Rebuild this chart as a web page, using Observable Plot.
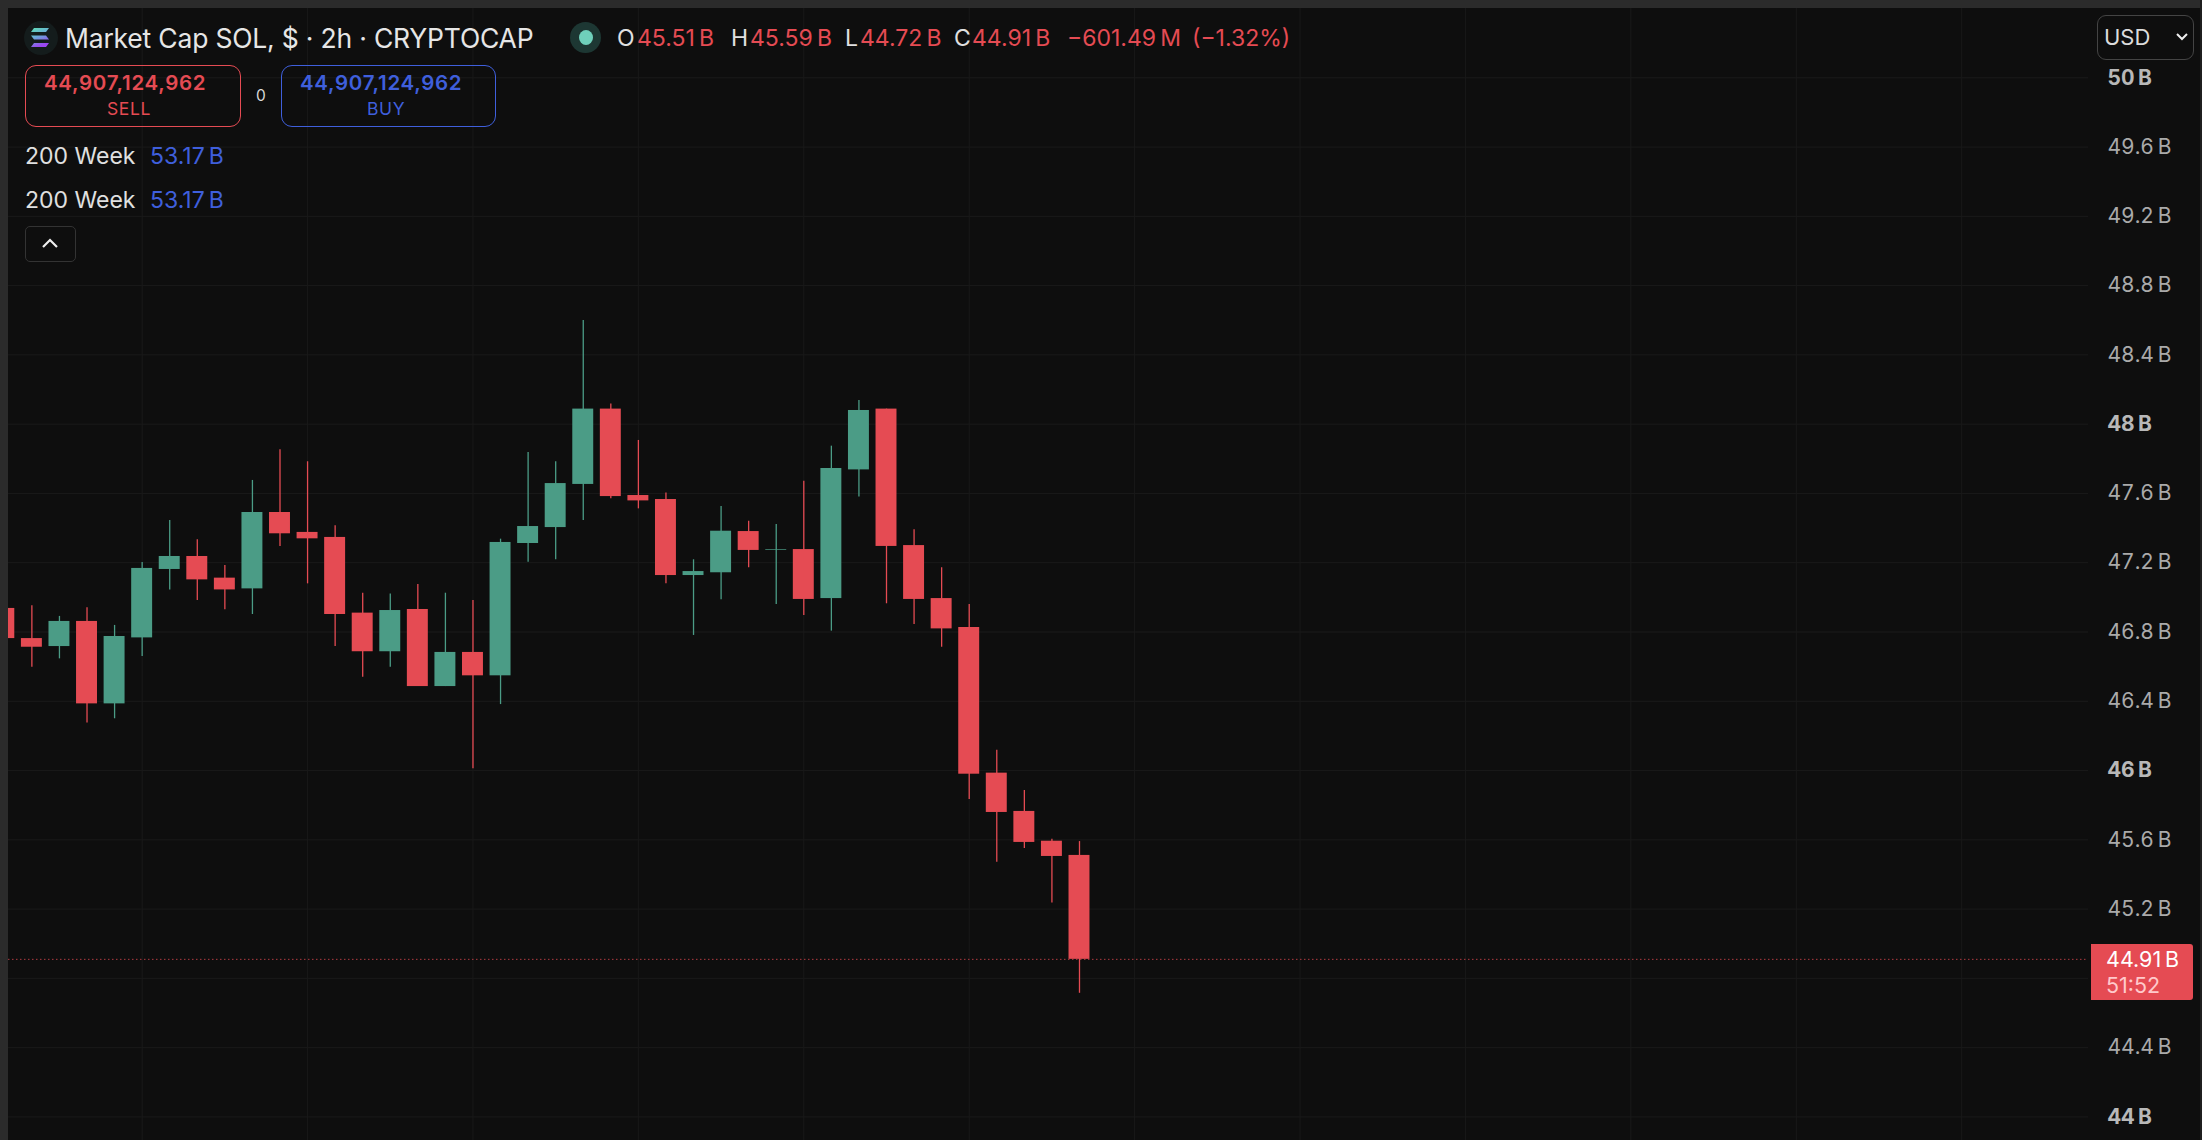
<!DOCTYPE html>
<html><head><meta charset="utf-8">
<script src="https://cdn.jsdelivr.net/npm/d3@7"></script>
<script src="https://cdn.jsdelivr.net/npm/@observablehq/plot@0.6"></script>
<style>
html,body{margin:0;padding:0;width:2202px;height:1140px;overflow:hidden;background:#0e0e0e;font-family:Inter,"Noto Sans",sans-serif;color:#e4e4e4}
#chart{position:absolute;left:0;top:0}
.abs{position:absolute;white-space:nowrap;line-height:1}
.band{position:absolute;background:#2b2b2b}
.box{position:absolute;box-sizing:border-box;border-radius:11px;background:transparent;text-align:center}
</style></head><body>
<div id="chart"></div>
<div class="band" style="left:0;top:0;width:2202px;height:8px"></div>
<div class="band" style="left:0;top:0;width:8px;height:1140px"></div>
<div class="band" style="left:2200px;top:0;width:2px;height:1140px;background:#1f1f1f"></div>
<div id="legend"></div>
<script>
const opens =[46.936,46.762,46.716,46.861,46.385,46.766,47.161,47.236,47.111,47.049,47.490,47.375,47.346,46.909,46.686,46.930,46.485,46.682,46.547,47.311,47.403,47.652,48.087,47.588,47.565,47.126,47.142,47.380,47.272,47.276,46.993,47.736,48.087,47.299,46.993,46.826,45.985,45.764,45.592,45.51];
const highs =[46.936,46.951,46.890,46.940,46.838,47.201,47.444,47.332,47.184,47.675,47.852,47.783,47.413,47.024,47.020,47.074,47.024,46.982,47.336,47.836,47.783,48.599,48.117,47.906,47.602,47.217,47.525,47.440,47.421,47.671,47.873,48.137,48.087,47.390,47.171,46.959,46.117,45.885,45.604,45.59];
const lows  =[46.762,46.597,46.645,46.274,46.299,46.659,47.043,46.982,46.928,46.901,47.294,47.078,46.716,46.539,46.597,46.485,46.485,46.010,46.381,47.203,47.217,47.444,47.569,47.511,47.078,46.780,46.986,47.171,46.959,46.895,46.805,47.579,46.963,46.843,46.712,45.833,45.471,45.550,45.235,44.714];
const closes=[46.762,46.712,46.861,46.385,46.774,47.167,47.236,47.101,47.043,47.490,47.367,47.338,46.901,46.686,46.924,46.485,46.682,46.547,47.317,47.409,47.657,48.087,47.582,47.557,47.126,47.149,47.382,47.271,47.276,46.988,47.744,48.079,47.294,46.988,46.818,45.979,45.758,45.585,45.504,44.91];
const minorTicks=[49.6,49.2,48.8,48.4,47.6,47.2,46.8,46.4,45.6,45.2,44.8,44.4];
const majorTicks=[50,48,46,44];
const timeGrid=[5,11,17,23,29,35,41,47,53,59,65,71];
const lastClose=44.91;
const countdown="51:52";
const RED="#e54b53", GREEN="#4b9c86", BLUE="#3f5fdc";
const candles=opens.map((o,i)=>({i,open:o,high:highs[i],low:lows[i],close:closes[i]}));
const colorOf=d=>d.close>=d.open?GREEN:RED;
const fmt=v=>`${v}\u2009B`;

const chart=Plot.plot({
  width:2202,height:1140,marginTop:8,marginLeft:8,marginRight:114,marginBottom:0,
  style:{background:"transparent",fontFamily:"Inter, sans-serif"},
  x:{domain:[0.152,75.6],axis:null},
  y:{domain:[43.864,50.4]},
  marks:[
    Plot.gridY([...minorTicks,...majorTicks],{stroke:"#1a1a1a",strokeOpacity:1}),
    Plot.gridX(timeGrid,{stroke:"#191919",strokeOpacity:1}),
    Plot.axisY({ticks:minorTicks,anchor:"right",tickSize:0,tickPadding:19,tickFormat:fmt,fontSize:21,fill:"#aaaaaa",label:null}),
    Plot.axisY({ticks:majorTicks,anchor:"right",tickSize:0,tickPadding:19,tickFormat:fmt,fontSize:21,fontWeight:700,fill:"#b8b8b8",label:null}),
    Plot.ruleY([lastClose],{stroke:RED,strokeOpacity:.75,strokeWidth:1,strokeDasharray:"1.5 2.5"}),
    Plot.ruleX(candles,{x:"i",y1:"low",y2:"high",stroke:colorOf,strokeWidth:1.3,clip:"frame"}),
    Plot.rect(candles,{x1:d=>d.i-.38,x2:d=>d.i+.38,y1:"open",y2:"close",fill:colorOf,clip:"frame"})
  ]
});
document.getElementById("chart").append(chart);

const y=chart.scale("y").apply(lastClose);
const L=document.getElementById("legend");
function t(txt,x,yc,size,color,extra=""){return `<div class="abs" style="left:${x}px;top:${yc}px;transform:translateY(-50%);font-size:${size}px;color:${color};${extra}">${txt}</div>`}
L.innerHTML=`
<svg class="abs" style="left:22px;top:16px" width="40" height="44" viewBox="0 0 40 44">
  <defs><linearGradient id="sol" x1="0" y1="0" x2="0.4" y2="1"><stop offset="0" stop-color="#5fe0b5"/><stop offset=".5" stop-color="#6aa8d8"/><stop offset="1" stop-color="#9a45f0"/></linearGradient></defs>
  <circle cx="19" cy="22" r="17" fill="#141c1c"/>
  <path d="M12 12h15l-3 4H9zM9 19.5h15l3 4H12zM12 27h15l-3 4H9z" fill="url(#sol)"/>
</svg>
${t("Market Cap SOL, $ · 2h · CRYPTOCAP",65,38,26.5,"#e6e6e6","letter-spacing:-.2px")}
<div class="abs" style="left:570px;top:22px;width:31px;height:31px;border-radius:50%;background:#1d3733"></div>
<div class="abs" style="left:579px;top:30px;width:14px;height:15px;border-radius:50%;background:#6fd0bb"></div>
${t("O",617,38,23,"#e0e0e0")}${t("45.51\u2009B",637,38,23,RED)}
${t("H",731,38,23,"#e0e0e0")}${t("45.59\u2009B",750,38,23,RED)}
${t("L",845,38,23,"#e0e0e0")}${t("44.72\u2009B",860,38,23,RED)}
${t("C",954,38,23,"#e0e0e0")}${t("44.91\u2009B",972,38,23,RED)}
${t("−601.49\u2009M",1067,38,23,RED)}${t("(−1.32%)",1192,38,23,RED)}
<div class="box" style="left:25px;top:65px;width:216px;height:62px;border:1.5px solid ${RED}"></div>
${t("44,907,124,962",44,83,20.5,RED,"font-weight:600;letter-spacing:.7px")}
${t("SELL",107,109,17.5,RED,"letter-spacing:.6px")}
${t("0",256,96,15.5,"#d8d8d8")}
<div class="box" style="left:281px;top:65px;width:215px;height:62px;border:1.5px solid ${BLUE}"></div>
${t("44,907,124,962",300,83,20.5,BLUE,"font-weight:600;letter-spacing:.7px")}
${t("BUY",367,109,17.5,BLUE,"letter-spacing:.6px")}
${t("200 Week",25,156,23,"#e0e0e0")}${t("53.17\u2009B",150,156,23,BLUE)}
${t("200 Week",25,200,23,"#e0e0e0")}${t("53.17\u2009B",150,200,23,BLUE)}
<div class="box" style="left:25px;top:226px;width:51px;height:36px;border:1.5px solid #333;border-radius:5px"></div>
<svg class="abs" style="left:40px;top:236px" width="20" height="14"><path d="M3 11l7-7 7 7" fill="none" stroke="#eee" stroke-width="2.2"/></svg>
<div class="box" style="left:2097px;top:15px;width:97px;height:45px;border:1.5px solid #444;border-radius:9px"></div>
${t("USD",2104,37,22,"#dcdcdc")}
<svg class="abs" style="left:2175px;top:31px" width="14" height="12"><path d="M2 3l5 5 5-5" fill="none" stroke="#eee" stroke-width="2"/></svg>
<div class="abs" style="left:2091px;top:${y-15}px;width:102px;height:56px;background:${RED};border-radius:0 3px 3px 0"></div>
${t(fmt(lastClose),2106,y+1,21.5,"#fff")}
${t(countdown,2106,y+27,21.5,"#ffc9cb")}
`;
</script>
</body></html>
